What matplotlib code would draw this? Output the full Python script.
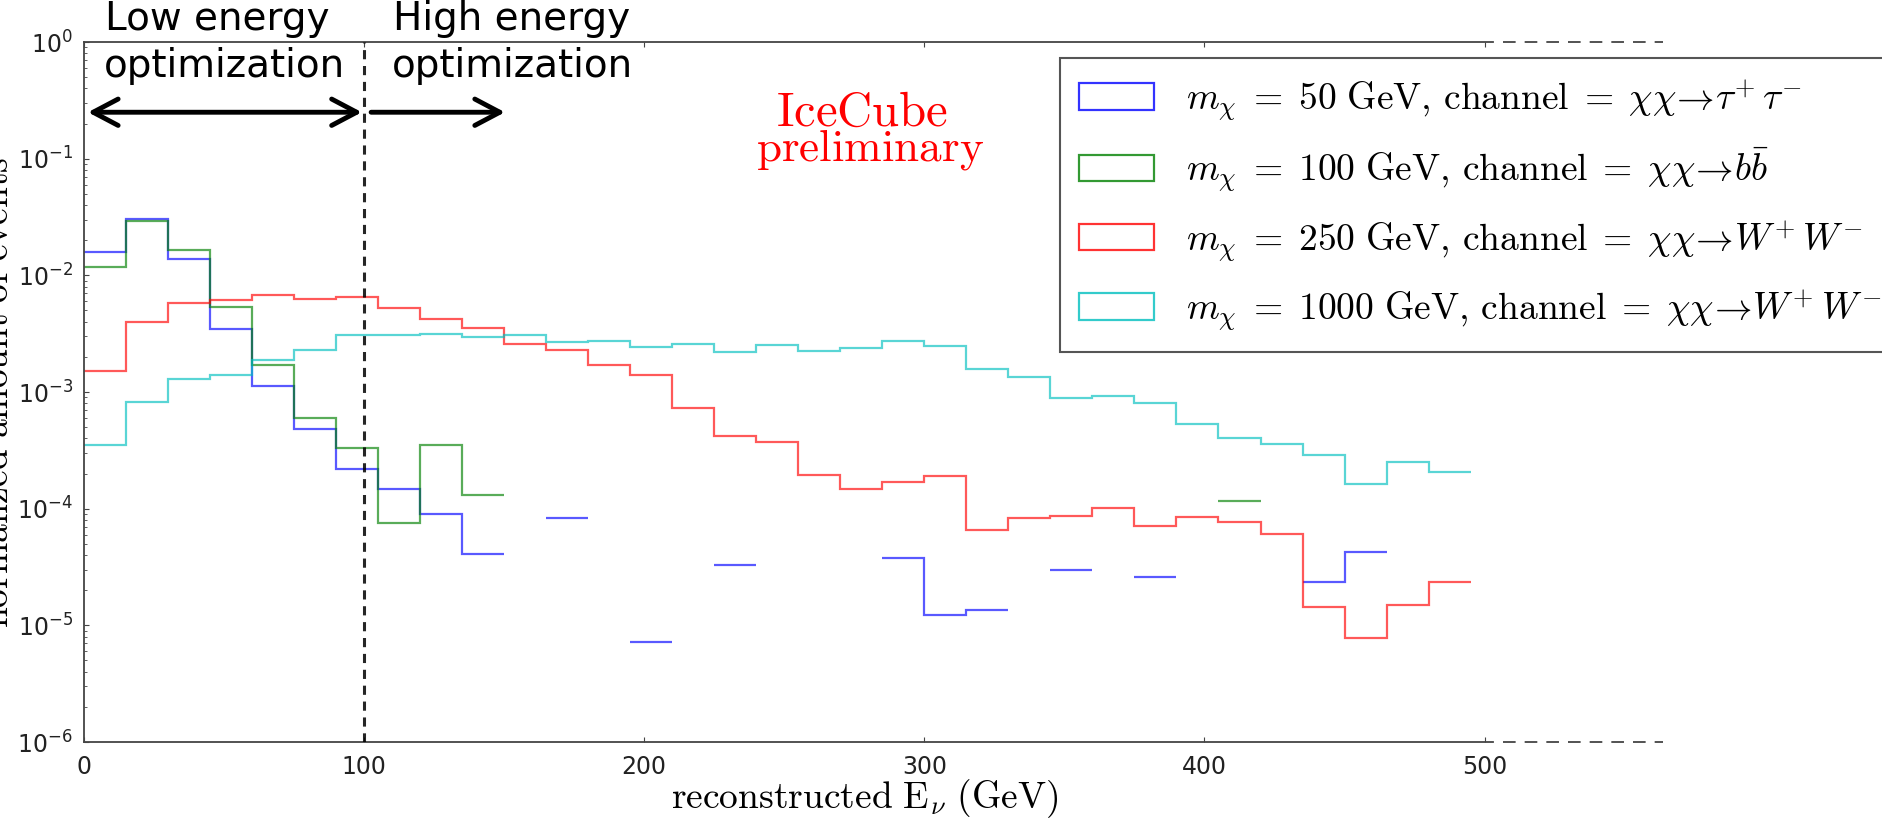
import numpy as np
import matplotlib
matplotlib.use('Agg')
import matplotlib.pyplot as plt
import matplotlib.patches as mpatches
from matplotlib.lines import Line2D
from matplotlib.font_manager import FontProperties

plt.rcParams['font.family'] = ['DejaVu Sans']
plt.rcParams['axes.unicode_minus'] = False

nan = float('nan')

# normalized event counts per 15 GeV bin of reconstructed neutrino energy (0..495 GeV)
bin_width = 15
n_bins = 33

tau_50 = [0.0158, 0.0305, 0.0138, 0.0035, 0.00112, 0.000486, 0.000217, 0.000146, 9.0e-5, 4.1e-5,
          nan, 8.3e-5, nan, 7.2e-6, nan, 3.27e-5, nan, nan, nan, 3.8e-5,
          1.22e-5, 1.36e-5, nan, 2.98e-5, nan, 2.61e-5, nan, nan, nan, 2.37e-5,
          4.27e-5, nan, nan]
bb_100 = [0.0118, 0.0295, 0.0166, 0.00535, 0.00172, 0.0006, 0.000332, 7.6e-5, 0.00035, 0.000131,
          nan, nan, nan, nan, nan, nan, nan, nan, nan, nan,
          nan, nan, nan, nan, nan, nan, nan, 0.000117, nan, nan,
          nan, nan, nan]
ww_250 = [0.00152, 0.0040, 0.0058, 0.0061, 0.0068, 0.0063, 0.0065, 0.00525, 0.0042, 0.00354,
          0.0026, 0.00228, 0.0017, 0.00139, 0.00073, 0.00042, 0.00037, 0.000193, 0.000146, 0.000168,
          0.00019, 6.5e-5, 8.4e-5, 8.6e-5, 0.000102, 7.1e-5, 8.45e-5, 7.7e-5, 6.05e-5, 1.45e-5,
          7.8e-6, 1.5e-5, 2.37e-5]
ww_1000 = [0.00035, 0.00082, 0.0013, 0.00139, 0.00189, 0.00228, 0.00306, 0.00306, 0.00314, 0.00296,
           0.0031, 0.00268, 0.00274, 0.00244, 0.00258, 0.0022, 0.00252, 0.00223, 0.0024, 0.00271,
           0.00249, 0.00158, 0.00135, 0.00088, 0.00092, 0.0008, 0.00053, 0.0004, 0.000355, 0.00029,
           0.000164, 0.00025, 0.000205]

labels = [r'$m_{\chi}\;=\;50\ \mathrm{GeV,\,channel}\;=\;\chi\chi\!\rightarrow\!\tau^{+}\,\tau^{-}$',
          r'$m_{\chi}\;=\;100\ \mathrm{GeV,\,channel}\;=\;\chi\chi\!\rightarrow\! b\bar{b}$',
          r'$m_{\chi}\;=\;250\ \mathrm{GeV,\,channel}\;=\;\chi\chi\!\rightarrow\! W^{+}\,W^{-}$',
          r'$m_{\chi}\;=\;1000\ \mathrm{GeV,\,channel}\;=\;\chi\chi\!\rightarrow\! W^{+}\,W^{-}$']
colors = ['b', 'g', 'r', 'c']

edges = np.arange(n_bins + 1) * bin_width

W, H = 1883, 822
fig = plt.figure(figsize=(W / 100, H / 100), dpi=100)
ax = fig.add_axes([84 / W, 1 - 742 / H, (1493 - 84) / W, (742 - 42) / H])

for vals, col in zip([tau_50, bb_100, ww_250, ww_1000], colors):
    ax.stairs(np.array(vals), edges, baseline=None, color=col, lw=1.6, alpha=0.65)

ax.set_yscale('log')
ax.set_ylim(1e-6, 1)
ax.set_xlim(0, 503)
ax.set_xticks([0, 100, 200, 300, 400, 500])

for side in ['left', 'top', 'bottom']:
    ax.spines[side].set_color('#444444')
    ax.spines[side].set_linewidth(1.3)
ax.spines['right'].set_visible(False)
ax.tick_params(which='both', direction='in', top=True, right=False, colors='#444444',
               labelcolor='#222222', labelsize=17)
ax.tick_params(axis='x', pad=9)
ax.tick_params(axis='y', pad=8)

# split between the two optimizations
ax.axvline(100, color='k', lw=2.2, ls=(0, (3.0, 2.2)), zorder=5, alpha=0.85)

arrow_kw = dict(color='k', lw=3.5, shrinkA=0, shrinkB=0)
ax.annotate('', xy=(99.2, 0.25), xytext=(1.4, 0.25),
            arrowprops=dict(arrowstyle='<->,head_length=1.8,head_width=0.95', **arrow_kw),
            annotation_clip=False)
ax.annotate('', xy=(150.3, 0.25), xytext=(102.5, 0.25),
            arrowprops=dict(arrowstyle='->,head_length=1.8,head_width=0.95', **arrow_kw),
            annotation_clip=False)

fig.text(105 / W, 1 - 30 / H, 'Low energy', fontsize=28, ha='left', va='baseline')
fig.text(104 / W, 1 - 77 / H, 'optimization', fontsize=28, ha='left', va='baseline')
fig.text(393 / W, 1 - 30 / H, 'High energy', fontsize=28, ha='left', va='baseline')
fig.text(392 / W, 1 - 77 / H, 'optimization', fontsize=28, ha='left', va='baseline')

fig.text(862 / W, 1 - 126 / H, r'$\mathrm{IceCube}$', color='red', fontsize=35,
         ha='center', va='baseline', math_fontfamily='cm')
fig.text(870 / W, 1 - 161 / H, r'$\mathrm{preliminary}$', color='red', fontsize=32.5,
         ha='center', va='baseline', math_fontfamily='cm')

fig.text(865 / W, 1 - 808 / H, r'$\mathrm{reconstructed\ E_{\nu}\ (GeV)}$', fontsize=27,
         ha='center', va='baseline', math_fontfamily='cm')
fig.text(16 / W, 1 - 392 / H, r'$\mathrm{normalized\ amount\ of\ events}$', fontsize=27,
         rotation=90, ha='right', va='center', math_fontfamily='cm')

# axis lines continue as dashes past 500 GeV
for yy in [42, 742]:
    fig.add_artist(Line2D([1503 / W, 1663 / W], [1 - yy / H, 1 - yy / H], color='#444444',
                          lw=1.3, ls=(0, (7, 5))))

handles = [mpatches.Patch(fill=False, edgecolor=c, lw=1.6, alpha=0.8) for c in colors]
leg = fig.legend(handles, labels, loc='upper left', bbox_to_anchor=(1060 / W, 1 - 58 / H),
                 bbox_transform=fig.transFigure, borderaxespad=0,
                 prop=FontProperties(size=27, math_fontfamily='cm'),
                 handlelength=2.0, handleheight=0.72, handletextpad=0.85,
                 borderpad=0.5, labelspacing=0.62, fancybox=False, framealpha=1)
leg.get_frame().set_edgecolor('#555555')
leg.get_frame().set_linewidth(1.5)

fig.savefig('out.png', dpi=100)
